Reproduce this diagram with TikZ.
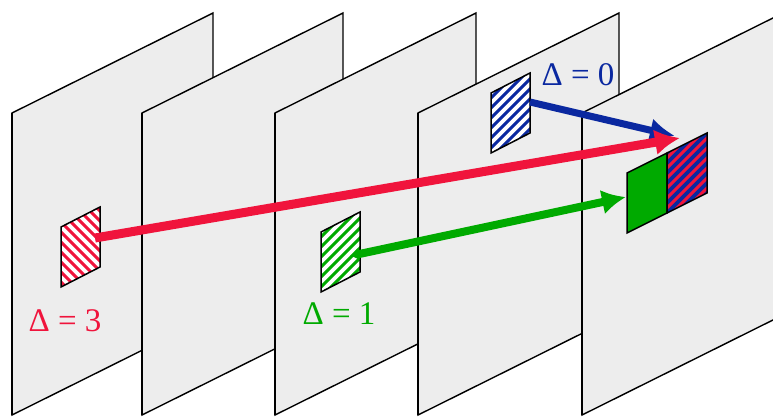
\documentclass[tikz,border=0pt]{standalone}
\usepackage{fontspec}
\setmainfont{Liberation Serif}
\usepackage{tikz}
\usetikzlibrary{arrows.meta, calc}
\definecolor{dred}{RGB}{240,20,60}
\definecolor{dblue}{RGB}{10,40,160}
\definecolor{dgreen}{RGB}{0,170,0}
\tikzset{
	plane/.style={fill=black!7, draw=black, line width=1.4pt},
	planeedge/.style={draw=black, line width=2.8pt},
	patch/.style={draw=black, line width=1.5pt},
	stripe/.style={line width=3pt},
	link/.style={line width=#1},
	delta/.style={font=\fontsize{33}{36}\selectfont, inner sep=0pt}
}

\begin{document}
\begin{tikzpicture}[x=1pt, y=-1pt]
	\useasboundingbox (0,0) rectangle (773,418);
	\clip (0,0) rectangle (773,418);
	
	% Planes
	\foreach \l in {12,142,275,418,582} {
		\draw[plane] (\l,113) -- (\l+201,13) -- (\l+201,315) -- (\l,415) -- cycle;
		\draw[planeedge] (\l,113) -- (\l,415);
	}
	
	% Patch on plane 1
	\begin{scope}[shift={(61,227)}]
		\begin{scope}
			\clip (0,0) -- (39,-20) -- (39,40) -- (0,60) -- cycle;
			\fill[white] (0,-20) rectangle (39,60);
			\foreach \k in {-90,-80,...,40}
			\draw[stripe, dred] (\k,-25) -- ++(90,90);
		\end{scope}
		\draw[patch] (0,0) -- (39,-20) -- (39,40) -- (0,60) -- cycle;
	\end{scope}
	
	% Patch on plane 3
	\begin{scope}[shift={(321,232)}]
		\begin{scope}
			\clip (0,0) -- (39,-20) -- (39,40) -- (0,60) -- cycle;
			\fill[white] (0,-20) rectangle (39,60);
			\foreach \k in {-70,-60,...,20}
			\draw[stripe, dgreen] (\k,65) -- ++(90,-90);
		\end{scope}
		\draw[patch] (0,0) -- (39,-20) -- (39,40) -- (0,60) -- cycle;
	\end{scope}
	
	% Patch on plane 4
	\begin{scope}[shift={(491,93)}]
		\begin{scope}
			\clip (0,0) -- (39,-20) -- (39,40) -- (0,60) -- cycle;
			\fill[white] (0,-20) rectangle (39,60);
			\foreach \k in {-70,-60,...,20}
			\draw[stripe, dblue] (\k,65) -- ++(90,-90);
		\end{scope}
		\draw[patch] (0,0) -- (39,-20) -- (39,40) -- (0,60) -- cycle;
	\end{scope}
	
	% Patches on plane 5
	\draw[patch, fill=dgreen] (627,173) -- (667,153) -- (667,213) -- (627,233) -- cycle;
	\begin{scope}[shift={(667,153)}]
		\begin{scope}
			\clip (0,0) -- (40,-20) -- (40,40) -- (0,60) -- cycle;
			\fill[dblue] (0,-20) rectangle (40,60);
			\foreach \k in {-70,-60,...,20}
			\draw[stripe, dred] (\k,65) -- ++(90,-90);
		\end{scope}
		\draw[patch] (0,0) -- (40,-20) -- (40,40) -- (0,60) -- cycle;
	\end{scope}
	
	% Labels
	\node[delta, text=dred] (d3) at (65,321) {Δ = 3};
	\node[delta, text=dgreen] (d1) at (339,314) {Δ = 1};
	\node[delta, text=dblue] (d0) at (578,75) {Δ = 0};
	
	% Connections
	\coordinate (blue-out) at (530,102);
	\coordinate (blue-in) at (675,136);
	\coordinate (red-out) at (95,238);
	\coordinate (red-in) at (680,138);
	\coordinate (green-out) at (350,256);
	\coordinate (green-in) at (626,197);
	\draw[link=7pt, dblue, -{Latex[length=25pt,width=24pt]}] (blue-out) -- (blue-in);
	\draw[link=9pt, dred, -{Latex[length=25pt,width=26pt]}] (red-out) -- (red-in);
	\draw[link=8pt, dgreen, {Latex[length=9pt,width=13pt]}-{Latex[length=24pt,width=25pt]}] (green-out) -- (green-in);
\end{tikzpicture}
\end{document}
